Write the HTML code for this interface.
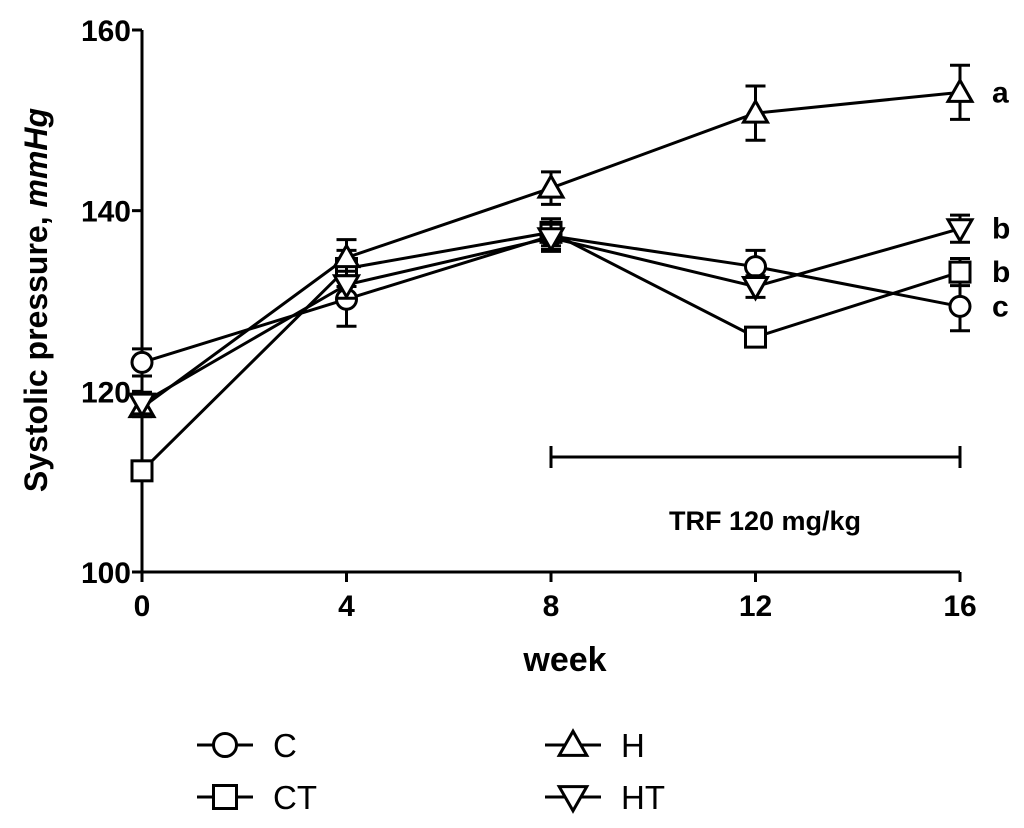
<!DOCTYPE html>
<html><head><meta charset="utf-8"><style>
body{margin:0;background:#fff;}
svg{display:block;font-family:"Liberation Sans",Arial,sans-serif;}
</style></head><body>
<svg id="chart" width="1024" height="828" viewBox="0 0 1024 828">
<g id="axes"></g>
<g id="series"></g>
<g id="ann"></g>
<g id="legend"></g>
</svg>
<script>
const weeks=[0,4,8,12,16];
const xTicks=[0,4,8,12,16];
const yTicks=[100,120,140,160];
const seriesNames=["C","CT","H","HT"];
const seriesMarkers=["circle","square","triangle","tri-down"];
const valuesC=[123.2,130.2,137.2,133.8,129.4];
const valuesCT=[111.2,133.6,137.6,126.0,133.2];
const valuesH=[118.2,134.8,142.5,150.8,153.1];
const valuesHT=[118.7,131.8,137.0,131.6,138.0];
const errC=[1.5,3,1.5,1.8,2.7];
const errCT=[1,2,1.5,1,1.5];
const errH=[1,2,1.8,3,3];
const errHT=[1.2,1.5,1.5,1.2,1.5];
const sigLetters=["c","b","a","b"];
const allVals=[valuesC,valuesCT,valuesH,valuesHT];
const allErr=[errC,errCT,errH,errHT];

const NS="http://www.w3.org/2000/svg";
const X0=142,X1=960,Y0=572,Y1=30;
function xs(w){return X0+(w-0)/(16-0)*(X1-X0);}
function ys(v){return Y0-(v-100)/(160-100)*(Y0-Y1);}
function mk(tag,attrs,parent){const e=document.createElementNS(NS,tag);for(const k in attrs)e.setAttribute(k,attrs[k]);parent.appendChild(e);return e;}
const axes=document.getElementById('axes');
let e=mk('line',{x1:X0,y1:Y1,x2:X0,y2:Y0,stroke:'#000','stroke-width':3},axes);


e=mk('line',{x1:X0,y1:Y0,x2:X1,y2:Y0,stroke:'#000','stroke-width':3},axes);


yTicks.forEach(t=>{
  const y=ys(t);
  let l=mk('line',{x1:X0-10,y1:y,x2:X0,y2:y,stroke:'#000','stroke-width':3},axes);
  
  
  let tx=mk('text',{x:X0-11,y:y+11,'text-anchor':'end','font-size':30,'font-weight':'bold'},axes);
  tx.textContent=t;
  
  
});
xTicks.forEach(t=>{
  const x=xs(t);
  let l=mk('line',{x1:x,y1:Y0,x2:x,y2:Y0+10,stroke:'#000','stroke-width':3},axes);
  
  
  let tx=mk('text',{x:x,y:616,'text-anchor':'middle','font-size':30,'font-weight':'bold'},axes);
  tx.textContent=t;
  
  
});
e=mk('text',{x:565,y:671,'text-anchor':'middle','font-size':34,'font-weight':'bold'},axes);
e.textContent='week';


e=mk('text',{transform:'translate(47,300) rotate(-90)','text-anchor':'middle','font-size':32,'font-weight':'bold'},axes);
e.innerHTML='Systolic pressure, <tspan font-style="italic">mmHg</tspan>';



function marker(type,x,y,g,k){
  k=k||1;
  const s={fill:'#fff',stroke:'#000','stroke-width':3};
  let m;
  if(type==='circle')m=mk('circle',Object.assign({cx:x,cy:y,r:10*k},s),g);
  else if(type==='square')m=mk('rect',Object.assign({x:x-10*k,y:y-10*k,width:20*k,height:20*k},s),g);
  else if(type==='triangle')m=mk('polygon',Object.assign({points:`${x},${y-12*k} ${x-12*k},${y+9*k} ${x+12*k},${y+9*k}`},s),g);
  else m=mk('polygon',Object.assign({points:`${x},${y+12*k} ${x-12*k},${y-9*k} ${x+12*k},${y-9*k}`},s),g);
  return m;
}
const sg=document.getElementById('series');
allVals.forEach((vals,i)=>{
  const g=mk('g',{},sg);
  
  
  const pts=vals.map((v,j)=>xs(weeks[j])+','+ys(v)).join(' ');
  let pl=mk('polyline',{points:pts,fill:'none',stroke:'#000','stroke-width':3},g);
  
  
  vals.forEach((v,j)=>{
    const x=xs(weeks[j]),er=allErr[i][j];
    const yt=ys(v+er),yb=ys(v-er);
    let eb=mk('path',{d:`M${x},${yt}V${yb}M${x-10},${yt}H${x+10}M${x-10},${yb}H${x+10}`,stroke:'#000','stroke-width':3,fill:'none'},g);
    
    
    let m=marker(seriesMarkers[i],x,ys(v),g);
    
    
  });
  let lt=mk('text',{x:992,y:ys(vals[4])+10,'font-size':30,'font-weight':'bold'},g);
  lt.textContent=sigLetters[i];
  
  
});
const ann=document.getElementById('ann');
e=mk('path',{d:`M${xs(8)},457H${xs(16)}M${xs(8)},446V468M${xs(16)},446V468`,stroke:'#000','stroke-width':3,fill:'none'},ann);


e=mk('text',{x:765,y:530,'text-anchor':'middle','font-size':27,'font-weight':'bold'},ann);
e.textContent='TRF 120 mg/kg';



const lg=document.getElementById('legend');
const legPos=[[225,745],[225,797],[573,745],[573,797]];
seriesNames.forEach((n,i)=>{
  const [x,y]=legPos[i];
  const g=mk('g',{},lg);
  
  
  mk('line',{x1:x-28,y1:y,x2:x+28,y2:y,stroke:'#000','stroke-width':3},g);
  marker(seriesMarkers[i],x,y,g,1.15);
  let t=mk('text',{x:x+48,y:y+12,'font-size':33},g);
  t.textContent=n;
});
</script>
</body></html>
